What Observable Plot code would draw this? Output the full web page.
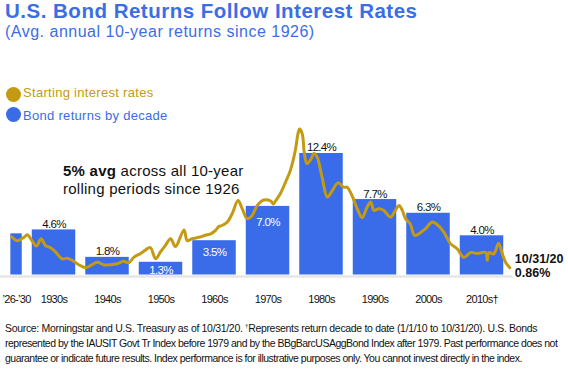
<!DOCTYPE html>
<html><head><meta charset="utf-8">
<script src="https://cdn.jsdelivr.net/npm/d3@7"></script>
<script src="https://cdn.jsdelivr.net/npm/@observablehq/plot@0.6"></script>
<style>
body{margin:0;background:#fff;font-family:"Liberation Sans",Arial,sans-serif;}
#wrap{position:relative;width:568px;height:377px;overflow:hidden;background:#fff;}
.abs{position:absolute;white-space:nowrap;}
#title{left:5px;top:0px;font-size:20.5px;line-height:22px;font-weight:bold;color:#3b6ee6;letter-spacing:0.5px;}
#subtitle{left:5px;top:23px;font-size:16px;line-height:18px;color:#3b6ee6;letter-spacing:0.5px;}
.leg{font-size:13px;line-height:16px;letter-spacing:0.3px;}
.dot{position:absolute;width:15px;height:15px;border-radius:50%;}
#note{left:63px;top:162px;font-size:15px;line-height:17.5px;color:#111;letter-spacing:0.25px;}
#caption{left:5px;top:321px;font-size:10.5px;line-height:15px;color:#111;letter-spacing:-0.5px;}
#caption .l1{letter-spacing:-0.32px;}
#chart{position:absolute;left:0;top:50px;}
</style>
</head><body>
<div id="wrap">
  <div id="title" class="abs">U.S. Bond Returns Follow Interest Rates</div>
  <div id="subtitle" class="abs">(Avg. annual 10-year returns since 1926)</div>
  <div id="chart"></div>
  <div class="dot" id="dot1" style="left:5.5px;top:86.5px;"></div>
  <div class="abs leg" id="leg1" style="left:23px;top:85px;">Starting interest rates</div>
  <div class="dot" id="dot2" style="left:5.5px;top:107px;"></div>
  <div class="abs leg" id="leg2" style="left:23px;top:107.7px;">Bond returns by decade</div>
  <div id="note" class="abs"><b>5% avg</b> across all 10-year<br>rolling periods since 1926</div>
  <div id="caption" class="abs"><span class="l1">Source: Morningstar and U.S. Treasury as of 10/31/20. <sup style="font-size:6px;vertical-align:4px;line-height:0">†</sup>Represents return decade to date (1/1/10 to 10/31/20). U.S. Bonds</span><br>represented by the IAUSIT Govt Tr Index before 1979 and by the BBgBarcUSAggBond Index after 1979. Past performance does not<br>guarantee or indicate future results. Index performance is for illustrative purposes only. You cannot invest directly in the index.</div>
</div>
<script>
// ---- data ----
const periods = ["’26-’30","1930s","1940s","1950s","1960s","1970s","1980s","1990s","2000s","2010s†"];
const periodStart = [1926,1930,1940,1950,1960,1970,1980,1990,2000,2010];
const periodEnd   = [1930,1940,1950,1960,1970,1980,1990,2000,2010,2020];
const bondReturns = [4.2,4.6,1.8,1.3,3.5,7.0,12.4,7.7,6.3,4.0];
const returnLabels = ["","4.6%","1.8%","1.3%","3.5%","7.0%","12.4%","7.7%","6.3%","4.0%"];

const rateYears = [1927.1,1928.1,1929.4,1930.0,1930.9,1931.7,1932.6,1933.4,1934.3,1935.3,1936.5,1937.5,1938.4,1939.6,1940.9,1941.8,1943.1,1944.3,1945.6,1946.8,1948.0,1949.0,1949.9,1951.2,1952.1,1953.0,1954.0,1954.9,1955.8,1956.8,1957.7,1959.3,1959.9,1960.8,1962.1,1963.3,1964.3,1965.2,1965.8,1966.4,1967.4,1968.3,1969.4,1970.2,1971.1,1972.0,1973.0,1974.2,1975.5,1976.0,1976.4,1977.3,1978.3,1979.2,1980.1,1980.6,1980.9,1981.4,1981.8,1982.3,1982.9,1983.6,1984.2,1985.1,1986.1,1987.0,1988.1,1989.2,1989.8,1990.7,1991.7,1992.6,1993.5,1994.2,1994.8,1995.7,1996.6,1997.9,1998.8,1999.5,2000.1,2000.7,2001.6,2002.4,2003.2,2004.4,2005.7,2006.6,2007.9,2009.1,2010.4,2011.6,2012.9,2014.1,2015.7,2016.0,2016.3,2017.2,2018.1,2018.8,2019.4,2020.2];
const rateValues = [3.9,3.5,3.85,4.1,3.5,2.95,3.7,3.0,2.8,2.35,1.65,1.7,1.5,1.05,0.75,0.95,1.3,1.05,1.05,1.15,1.4,1.25,1.8,2.2,2.55,2.8,1.65,2.35,3.0,3.7,2.9,4.6,3.5,3.7,3.85,4.05,4.2,4.55,4.95,5.05,5.4,6.25,7.6,6.75,5.75,6.05,7.1,7.65,7.55,7.25,7.55,8.3,9.5,10.7,12.7,14.4,14.9,14.4,12.4,11.35,11.7,12.4,12.0,10.0,7.95,8.6,9.4,8.95,8.95,8.1,6.75,5.85,6.9,7.45,6.6,6.75,6.6,5.9,6.6,7.1,6.6,5.75,5.2,4.05,4.2,4.7,5.4,5.15,4.35,3.2,2.65,1.8,2.3,2.2,2.3,1.5,2.3,2.15,3.25,2.15,1.3,0.75];

const endDate = "10/31/20";
const endRateLabel = "0.86%";

// ---- styles ----
const BLUE = "#3a6cea";
const GOLD = "#c49a12";
const insideOffset = {"1950s": 4, "1960s": 7, "1970s": 11};

document.getElementById("dot1").style.background = GOLD;
document.getElementById("leg1").style.color = GOLD;
document.getElementById("dot2").style.background = BLUE;
document.getElementById("leg2").style.color = BLUE;

const bars = periods.map((p, i) => ({p, x1: periodStart[i], x2: periodEnd[i], v: bondReturns[i], label: returnLabels[i], mid: (periodStart[i] + periodEnd[i]) / 2}));
const rates = rateYears.map((t, i) => ({t, v: rateValues[i]}));
const last = rates[rates.length - 1];
const above = bars.filter(d => d.label && !(d.p in insideOffset));
const inside = bars.filter(d => d.label && (d.p in insideOffset));

const plot = Plot.plot({
  width: 568,
  height: 260,
  marginTop: 0, marginBottom: 35.5, marginLeft: 0, marginRight: 0,
  x: {domain: [1925, 2031], range: [0, 567.1], axis: null},
  y: {domain: [0, 15], range: [224.5, 77.5], axis: null},
  style: {fontFamily: '"Liberation Sans", Arial, sans-serif', background: "transparent", overflow: "visible"},
  marks: [
    Plot.rectY(bars, {x1: "x1", x2: "x2", y: "v", fill: BLUE, insetLeft: 5, insetRight: 5}),
    Plot.ruleY([0], {x1: 1925, x2: 2020.8, stroke: "#e6e6e6", strokeWidth: 2.5, dy: 1.5}),
    Plot.text(above, {x: "mid", y: "v", text: "label", lineAnchor: "bottom", dy: -2, fontSize: 11.5, fill: "#111"}),
    ...inside.map(d => Plot.text([d], {x: "mid", y: "v", text: "label", lineAnchor: "top", dy: insideOffset[d.p], fontSize: 11.5, fill: "white"})),
    Plot.line(rates, {x: "t", y: "v", stroke: GOLD, strokeWidth: 3, curve: "catmull-rom", strokeLinejoin: "round", strokeLinecap: "round"}),
    Plot.text(bars, {x: "mid", text: "p", frameAnchor: "bottom", lineAnchor: "top", dy: 20, fontSize: 11, fill: "#111"}),
    Plot.text([last], {x: "t", y: "v", text: () => endDate + "\n" + endRateLabel, textAnchor: "start", lineAnchor: "middle", dx: 5, dy: -2, fontSize: 12.5, fontWeight: "bold", fill: "#111", lineHeight: 1.15})
  ]
});
plot.querySelectorAll("text").forEach(t => { if (!t.closest("g[font-weight]")) t.style.letterSpacing = "-0.7px"; });
document.getElementById("chart").appendChild(plot);
</script>
</body></html>
